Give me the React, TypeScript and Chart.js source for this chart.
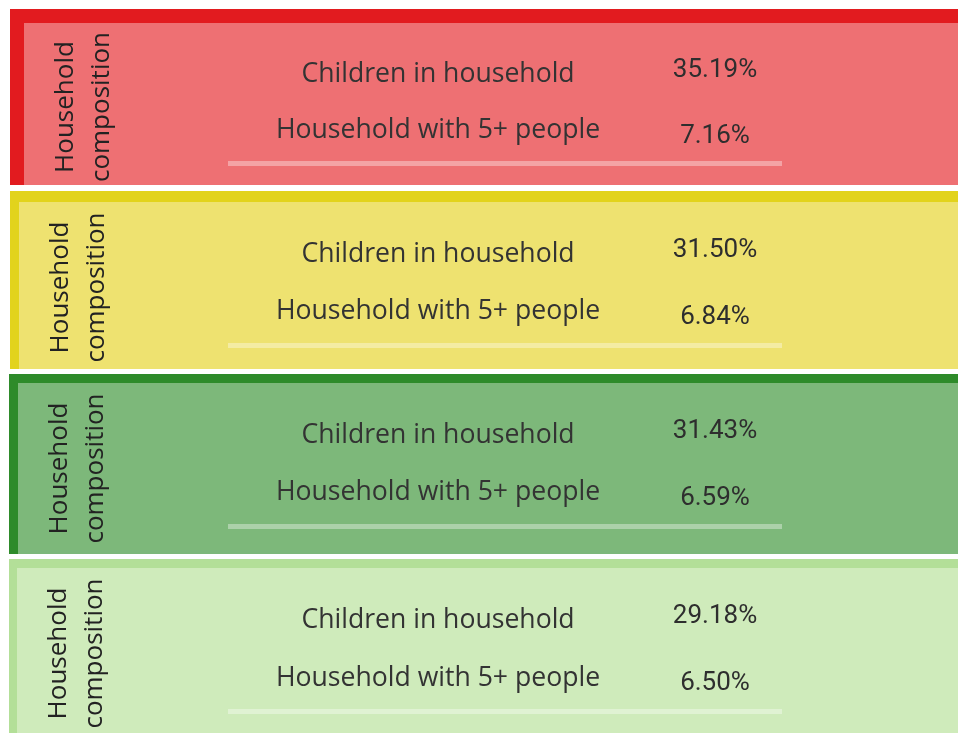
import React, { useEffect, useRef } from 'react';
import { Chart, registerables } from 'chart.js';

Chart.register(...registerables);

// ---- data ----
const CATEGORIES = ['Children in household', 'Household with 5+ people'];
const AXIS_TITLE = ['Household', 'composition'];
const RED_VALUES = [35.19, 7.16];
const YELLOW_VALUES = [31.5, 6.84];
const DARK_GREEN_VALUES = [31.43, 6.59];
const LIGHT_GREEN_VALUES = [29.18, 6.5];

// ---- layout / style ----
const PAGE_W = 958;
const PAGE_H = 733;
const AREA_LEFT = 230.5;
const AREA_RIGHT = 781.5;
const LABEL_CENTER = 438;
const VALUE_CENTER = 715;
const TITLE_BASELINE = 48.5;
const TITLE_LINE_GAP = 36;
const UNDERLINE = 'rgba(255,255,255,0.36)';

const PANELS = [
  { values: RED_VALUES, border: '#e21b1f', fill: '#ee7073', left: 10, top: 9, height: 176, bt: 14, bl: 14, padTop: 28, padBottom: 22 },
  { values: YELLOW_VALUES, border: '#e2d31c', fill: '#eee270', left: 10, top: 191, height: 178, bt: 11, bl: 9, padTop: 28, padBottom: 24 },
  { values: DARK_GREEN_VALUES, border: '#2e8b2a', fill: '#7db87a', left: 9, top: 374, height: 180, bt: 9, bl: 9, padTop: 28, padBottom: 28 },
  { values: LIGHT_GREEN_VALUES, border: '#b3df98', fill: '#cfebbb', left: 9, top: 559, height: 174, bt: 9, bl: 8, padTop: 27.5, padBottom: 21.5 },
];

const tablePlugin = {
  id: 'tableText',
  afterDatasetsDraw(chart: any) {
    const { ctx, chartArea, scales } = chart;
    const y = scales.y;
    const mid = (chartArea.top + chartArea.bottom) / 2;
    const labelX = chartArea.left + (LABEL_CENTER - AREA_LEFT);
    const valueX = chartArea.left + (VALUE_CENTER - AREA_LEFT);
    const data = chart.data.datasets[0].data as number[];
    ctx.save();
    ctx.textBaseline = 'alphabetic';
    ctx.textAlign = 'center';
    (chart.data.labels as string[]).forEach((lab, i) => {
      const rowY = y.getPixelForValue(i);
      ctx.font = '26.6px "Open Sans"';
      ctx.fillStyle = '#333333';
      ctx.fillText(lab, labelX, rowY + 3);
      ctx.font = '400 26px Roboto';
      ctx.fillStyle = '#2e2e2e';
      ctx.fillText(data[i].toFixed(2) + '%', valueX, mid + (rowY - mid) * 1.17 + 3);
    });
    // rotated axis title
    ctx.translate(0, mid);
    ctx.rotate(-Math.PI / 2);
    ctx.font = '26px "Open Sans"';
    ctx.fillStyle = '#222222';
    ctx.textAlign = 'center';
    AXIS_TITLE.forEach((t, i) => {
      ctx.fillText(t, 0, TITLE_BASELINE + i * TITLE_LINE_GAP);
    });
    ctx.restore();
  },
};

function Panel({ cfg }: { cfg: any }) {
  const ref = useRef<HTMLCanvasElement>(null);
  const innerLeft = cfg.left + cfg.bl;
  const cw = PAGE_W - innerLeft;
  const ch = cfg.height - cfg.bt;
  useEffect(() => {
    const canvas = ref.current!;
    const chart = new Chart(canvas, {
      type: 'bar',
      data: {
        labels: CATEGORIES,
        datasets: [{ data: cfg.values, backgroundColor: 'rgba(0,0,0,0)', borderWidth: 0 }],
      },
      options: {
        animation: false,
        responsive: false,
        maintainAspectRatio: false,
        indexAxis: 'y',
        events: [],
        layout: {
          padding: {
            left: AREA_LEFT - innerLeft,
            right: PAGE_W - AREA_RIGHT,
            top: cfg.padTop,
            bottom: cfg.padBottom,
          },
        },
        plugins: { legend: { display: false }, tooltip: { enabled: false }, title: { display: false } },
        scales: {
          x: {
            min: 0,
            max: 100,
            ticks: { display: false },
            grid: { display: false, drawTicks: false },
            border: { display: true, color: UNDERLINE, width: 5 },
            afterFit: (s: any) => { s.height = 0; },
          },
          y: { display: false },
        },
      } as any,
      plugins: [tablePlugin],
    });
    let alive = true;
    if ((document as any).fonts) {
      Promise.all([
        (document as any).fonts.load('26px "Open Sans"'),
        (document as any).fonts.load('400 26px Roboto'),
      ]).then(() => { if (alive) chart.update(); }).catch(() => {});
    }
    return () => { alive = false; chart.destroy(); };
  }, []);
  return (
    <div
      style={{
        position: 'absolute',
        left: cfg.left,
        top: cfg.top,
        width: PAGE_W - cfg.left,
        height: cfg.height,
        boxSizing: 'border-box',
        borderTop: `${cfg.bt}px solid ${cfg.border}`,
        borderLeft: `${cfg.bl}px solid ${cfg.border}`,
        background: cfg.fill,
      }}
    >
      <canvas ref={ref} width={cw} height={ch} style={{ display: 'block', width: cw, height: ch }} />
    </div>
  );
}

export default function App() {
  return (
    <div style={{ position: 'absolute', left: 0, top: 0, width: PAGE_W, height: PAGE_H, background: '#ffffff', overflow: 'hidden' }}>
      {PANELS.map((p, i) => (
        <Panel key={i} cfg={p} />
      ))}
    </div>
  );
}
